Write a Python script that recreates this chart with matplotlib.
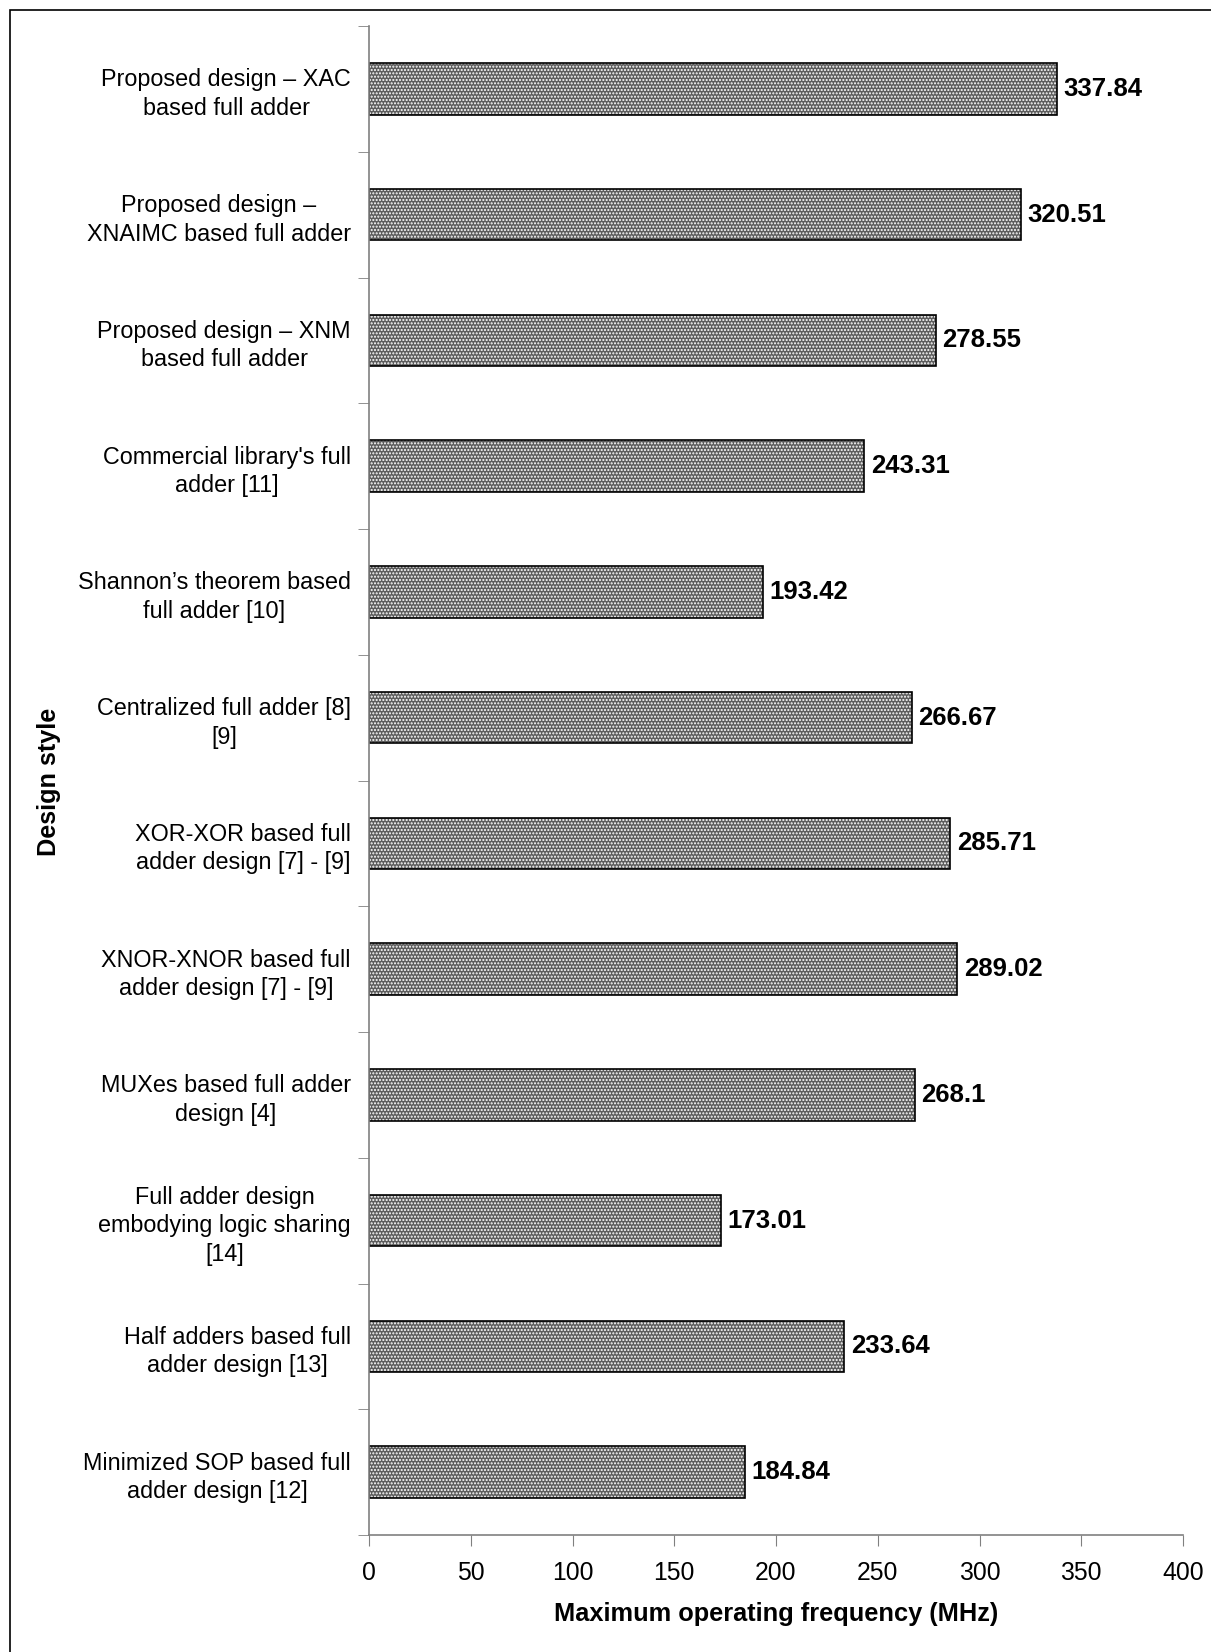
import matplotlib
matplotlib.use("Agg")
import matplotlib.pyplot as plt
from matplotlib.patches import Rectangle

plt.rcParams['font.family'] = ['Liberation Sans', 'DejaVu Sans']

designs = [
    "Proposed design – XAC\nbased full adder",
    "Proposed design –\nXNAIMC based full adder",
    "Proposed design – XNM\nbased full adder",
    "Commercial library's full\nadder [11]",
    "Shannon’s theorem based\nfull adder [10]",
    "Centralized full adder [8]\n[9]",
    "XOR-XOR based full\nadder design [7] - [9]",
    "XNOR-XNOR based full\nadder design [7] - [9]",
    "MUXes based full adder\ndesign [4]",
    "Full adder design\nembodying logic sharing\n[14]",
    "Half adders based full\nadder design [13]",
    "Minimized SOP based full\nadder design [12]",
]
freq_mhz = [337.84, 320.51, 278.55, 243.31, 193.42, 266.67,
            285.71, 289.02, 268.1, 173.01, 233.64, 184.84]
value_labels = ["337.84", "320.51", "278.55", "243.31", "193.42", "266.67",
                "285.71", "289.02", "268.1", "173.01", "233.64", "184.84"]
xticks = [0, 50, 100, 150, 200, 250, 300, 350, 400]

W, H = 1211, 1652
fig = plt.figure(figsize=(W / 100, H / 100), dpi=100)
ax = fig.add_axes([369 / W, 1 - 1535 / H, (1183 - 369) / W, (1535 - 26) / H])

n = len(designs)
ypos = list(range(n))
bh = 0.41
# gray fill with white dot hatch, then black outline on top
ax.barh(ypos, freq_mhz, height=bh, color='#5c5c5c', edgecolor='white',
        hatch='.....', linewidth=0)
ax.barh(ypos, freq_mhz, height=bh, fill=False, edgecolor='black', linewidth=1.2)

for y, v, s in zip(ypos, freq_mhz, value_labels):
    ax.text(v + 3.2, y, s, va='center', ha='left', fontsize=18.5,
            fontweight='bold')

ax.set_ylim(n - 0.5, -0.5)
ax.set_xlim(0, 400)
ax.set_yticks(ypos)
ax.set_yticklabels(designs, fontsize=16.8, ha='right', multialignment='center',
                   linespacing=1.3)
ax.set_yticks([i - 0.5 for i in range(n + 1)], minor=True)
ax.tick_params(axis='y', which='major', length=0, pad=13)
ax.tick_params(axis='y', which='minor', length=8, direction='out', color='#808080')
ax.set_xticks(xticks)
ax.set_xticklabels([str(t) for t in xticks], fontsize=17.8)
ax.tick_params(axis='x', length=8, direction='out', color='#808080', pad=11)

for side in ['top', 'right']:
    ax.spines[side].set_visible(False)
for side in ['left', 'bottom']:
    ax.spines[side].set_color('#808080')
    ax.spines[side].set_linewidth(1.2)

ax.set_xlabel("Maximum operating frequency (MHz)", fontsize=18.3,
              fontweight='bold', labelpad=12)
fig.text(49 / W, 1 - 782 / H, "Design style", rotation=90, ha='center',
         va='center', fontsize=18.2, fontweight='bold')

# chart frame (only left and top edges fall inside the image)
fig.patches.append(Rectangle((10 / W, -0.1), 1.2, 1 - 10 / H + 0.1,
                             transform=fig.transFigure, fill=False,
                             edgecolor='black', linewidth=1.2))

fig.savefig("out.png", dpi=100)
